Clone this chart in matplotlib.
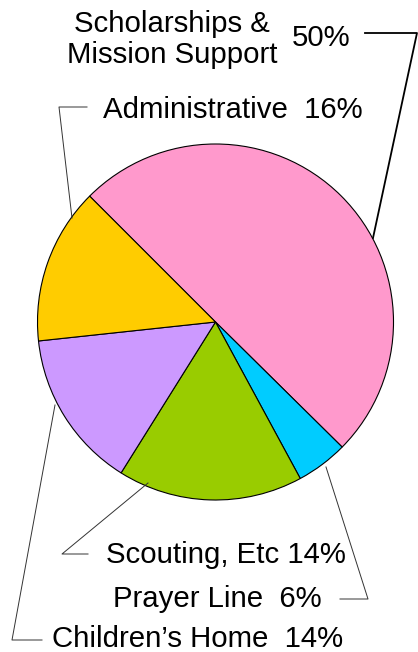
import matplotlib.pyplot as plt

# slice sizes as drawn, clockwise from the top-left
sizes = [49.9, 4.7, 16.8, 14.4, 14.2]
colors = ['#FF99CC', '#00CCFF', '#99CC00', '#CC99FF', '#FFCC00']

# label text as printed on the chart
labels = ['Scholarships &\nMission Support', 'Prayer Line  6%', 'Scouting, Etc 14%',
          "Children\u2019s Home  14%", 'Administrative  16%']

plt.rcParams['font.family'] = ['Liberation Sans', 'DejaVu Sans']

fig = plt.figure(figsize=(4.18, 6.52), dpi=100)
ax = fig.add_axes([0, 0, 1, 1])

# y axis runs downward (pixel-like), so counterclock=True here is clockwise on screen
ax.pie(sizes, colors=colors, center=(215.5, 322), radius=178,
       startangle=-135, counterclock=True,
       wedgeprops=dict(edgecolor='black', linewidth=0.8))

ax.set_xlim(0, 418)
ax.set_ylim(652, 0)
ax.set_aspect('auto')
ax.axis('off')

fs = 21.2
ax.text(172, 63, labels[0], ha='center', va='baseline', fontsize=fs, linespacing=1.12)
ax.text(292, 46, '50%', ha='left', va='baseline', fontsize=fs)
ax.text(103, 118, labels[4], ha='left', va='baseline', fontsize=fs)
ax.text(106, 563, labels[2], ha='left', va='baseline', fontsize=fs)
ax.text(113, 607, labels[1], ha='left', va='baseline', fontsize=fs)
ax.text(52, 647, labels[3], ha='left', va='baseline', fontsize=fs)

# leader lines
ax.plot([365, 417, 373], [33, 33, 238], color='black', lw=1.3)
ax.plot([87, 59, 72], [107, 107, 218], color='#333333', lw=0.7)
ax.plot([148, 62, 88], [483, 554, 554], color='#333333', lw=0.7)
ax.plot([326, 368, 340], [467, 599, 599], color='#333333', lw=0.7)
ax.plot([55, 12, 42], [405, 640, 640], color='#333333', lw=0.7)

fig.savefig('out.png', dpi=100)
